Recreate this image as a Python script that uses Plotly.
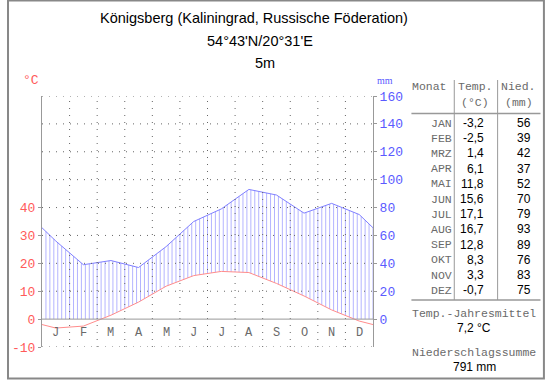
import numpy as np
import plotly.graph_objects as go

# ---------------- data ----------------
months_short = ["J", "F", "M", "A", "M", "J", "J", "A", "S", "O", "N", "D"]
months_table = ["JAN", "FEB", "MRZ", "APR", "MAI", "JUN", "JUL", "AUG", "SEP", "OKT", "NOV", "DEZ"]
temp = [-3.2, -2.5, 1.4, 6.1, 11.8, 15.6, 17.1, 16.7, 12.8, 8.3, 3.3, -0.7]
precip = [56, 39, 42, 37, 52, 70, 79, 93, 89, 76, 83, 75]
temp_ticks = [-10, 0, 10, 20, 30, 40]
precip_ticks = [0, 20, 40, 60, 80, 100, 120, 140, 160]
grid_levels = [-10, 10, 20, 30, 40, 50, 60, 70, 80]
title_lines = ["Königsberg (Kaliningrad, Russische Föderation)", "54°43'N/20°31'E", "5m"]
annual_mean = "7,2 °C"
annual_sum = "791 mm"

W, H = 550, 382
L, R, T, B = 37, 373, 96, 347  # plot area in pixels

def px(x):
    return (x - L) / (R - L)

def py(y):
    return (B - y) / (B - T)

def fmt(v):
    return f"{v:.1f}".replace(".", ",")

RED = "#ff5a5a"
BLUE = "#5a5aff"
GRAY_TXT = "#6a6a6a"
MONO = "Liberation Mono, Courier New, monospace"
SANS = "Liberation Sans, Arial, sans-serif"

# curve points at month centres plus wrapped edges
n = len(temp)
xc = [0.0] + [i + 0.5 for i in range(n)] + [float(n)]
t_edge = (temp[0] + temp[-1]) / 2
p_edge = (precip[0] + precip[-1]) / 2
tc = [t_edge] + temp + [t_edge]
pc = [p_edge / 2] + [p / 2 for p in precip] + [p_edge / 2]  # 20 mm = 10 °C

# hatching
hx, hy = [], []
for x in np.arange(1 / 7, n, 1 / 7):
    tv = float(np.interp(x, xc, tc))
    pv = float(np.interp(x, xc, pc))
    lo = max(tv, 0.0)
    if pv > lo:
        hx += [x, x, None]
        hy += [lo, pv, None]

fig = go.Figure()
fig.add_trace(go.Scatter(x=hx, y=hy, mode="lines", line=dict(color="#b4b4ff", width=1),
                         hoverinfo="skip", showlegend=False))
fig.add_trace(go.Scatter(x=xc, y=pc, mode="lines", line=dict(color="#8080ff", width=1),
                         showlegend=False))
fig.add_trace(go.Scatter(x=xc, y=tc, mode="lines", line=dict(color="#ff8c8c", width=1),
                         showlegend=False))
# dummy for right axis
fig.add_trace(go.Scatter(x=[0], y=[0], yaxis="y2", mode="markers", marker=dict(opacity=0),
                         showlegend=False, hoverinfo="skip"))

shapes = []
dot = "1px,6px"
for g in grid_levels:
    shapes.append(dict(type="line", xref="x", yref="y", x0=0, x1=n, y0=g, y1=g,
                       line=dict(color="#666", width=1, dash=dot), layer="above"))
for m in range(1, n):
    shapes.append(dict(type="line", xref="x", yref="y", x0=m, x1=m, y0=-10, y1=80,
                       line=dict(color="#666", width=1, dash=dot), layer="above"))
shapes.append(dict(type="line", xref="x", yref="y", x0=0, x1=n, y0=0, y1=0,
                   line=dict(color="#999", width=1), layer="above"))

# table lines (pixel -> paper)
def pline(x0, y0, x1, y1, color="#999", width=1.5):
    shapes.append(dict(type="line", xref="paper", yref="paper", x0=px(x0), x1=px(x1),
                       y0=py(y0), y1=py(y1), line=dict(color=color, width=width)))

pline(455.5, 80, 455.5, 300, width=1)
pline(499.5, 80, 499.5, 300, width=1)
pline(412, 113.5, 543, 113.5)
pline(412, 300, 543, 300)
# outer frame
shapes.append(dict(type="rect", xref="paper", yref="paper", x0=px(2.5), x1=px(546.5),
                   y0=py(378.5), y1=py(0.5), line=dict(color="#888", width=2)))

ann = []
def text(x, y, s, size, color="black", family=SANS, xanchor="center"):
    ann.append(dict(xref="paper", yref="paper", x=px(x), y=py(y), text=s, showarrow=False,
                    xanchor=xanchor, yanchor="middle", font=dict(size=size, color=color, family=family)))

title_x = [252.5, 258.5, 263]
title_y = [18, 41, 63]
for i, s in enumerate(title_lines):
    text(title_x[i], title_y[i], s, 14.5)

text(26, 80, "°C", 13, RED, MONO)
text(385, 80, "mm", 10, BLUE, "Liberation Serif, serif")

for i, s in enumerate(months_short):
    ann.append(dict(xref="x", yref="y", x=i + 0.5, y=-5, text=s, showarrow=False,
                    xanchor="center", yanchor="middle",
                    font=dict(size=12, color=GRAY_TXT, family=MONO)))

text(430, 86, "Monat", 11.5, GRAY_TXT, MONO)
text(477, 86, "Temp.", 11.5, GRAY_TXT, MONO)
text(477, 102, "(°C)", 11.5, GRAY_TXT, MONO)
text(521, 86, "Nied.", 11.5, GRAY_TXT, MONO)
text(521, 102, "(mm)", 11.5, GRAY_TXT, MONO)
for i in range(n):
    y = 123 + i * 15.2
    text(443, y, months_table[i], 11.5, GRAY_TXT, MONO)
    text(488, y, fmt(temp[i]), 12, "black", SANS, "right")
    text(535, y, str(precip[i]), 12, "black", SANS, "right")
text(476, 313, "Temp.-Jahresmittel", 11.5, GRAY_TXT, MONO)
text(476, 328, annual_mean, 12, "black", SANS)
text(476, 352, "Niederschlagssumme", 11.5, GRAY_TXT, MONO)
text(476, 367, annual_sum, 12, "black", SANS)

fig.update_layout(
    width=W, height=H,
    margin=dict(l=L, r=W - R, t=T, b=H - B, pad=0),
    paper_bgcolor="white", plot_bgcolor="white",
    shapes=shapes, annotations=ann, showlegend=False,
    xaxis=dict(range=[0, n], showgrid=False, zeroline=False, showticklabels=False,
               ticks="", showline=False, fixedrange=True),
    yaxis=dict(range=[-10, 80], tickvals=temp_ticks, ticktext=[str(v) for v in temp_ticks],
               showgrid=False, zeroline=False, showline=True, linecolor="#999", linewidth=1,
               ticks="outside", ticklen=3, tickcolor="#999",
               tickfont=dict(size=13, color=RED, family=MONO), fixedrange=True),
    yaxis2=dict(range=[-20, 160], overlaying="y", side="right", tickvals=precip_ticks,
                ticktext=[str(v) for v in precip_ticks], showgrid=False, zeroline=False,
                showline=True, linecolor="#999", linewidth=1, ticks="outside", ticklen=3,
                tickcolor="#999", tickfont=dict(size=13, color=BLUE, family=MONO), fixedrange=True),
)

fig.write_html("out.html", config={"displayModeBar": False},
               post_script="document.body.style.margin='0';document.body.style.overflow='hidden';")
